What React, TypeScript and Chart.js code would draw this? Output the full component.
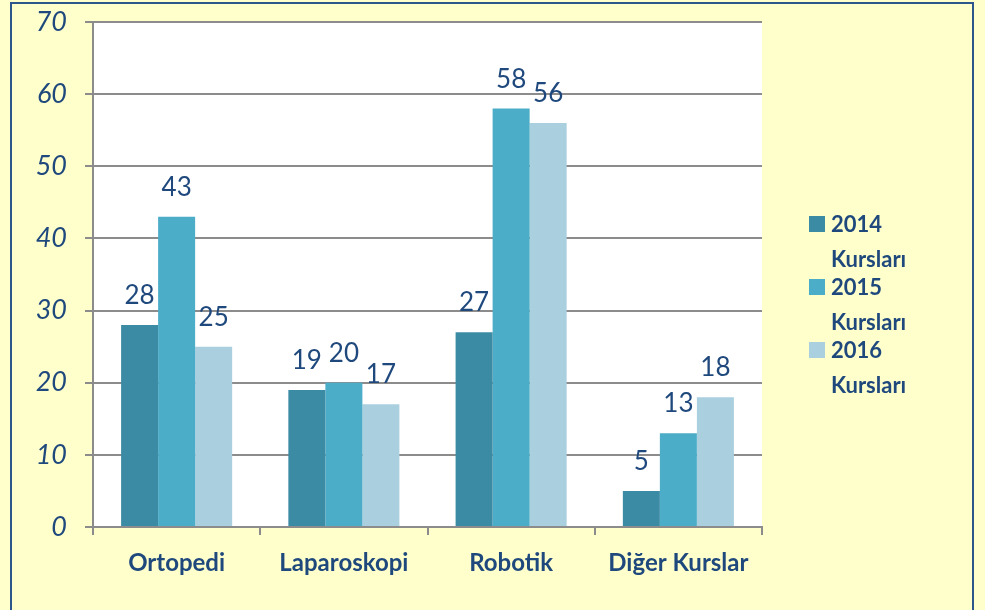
import React, { useEffect, useRef } from "react";
import { Chart, registerables } from "chart.js";

Chart.register(...registerables);

const categories = ["Ortopedi", "Laparoskopi", "Robotik", "Diğer Kurslar"];
const seriesNames = ["2014 Kursları", "2015 Kursları", "2016 Kursları"];
const values2014 = [28, 19, 27, 5];
const values2015 = [43, 20, 58, 13];
const values2016 = [25, 17, 56, 18];
const colors = ["#3C8BA4", "#4BADC7", "#AACFDF"];
const yMax = 70;
const yStep = 10;

const TEXT = "#1F497D";
const FONT = "Lato, 'Open Sans', sans-serif";

const plotBg = {
  id: "plotBg",
  beforeDraw(chart: any) {
    const { ctx, chartArea } = chart;
    ctx.save();
    ctx.fillStyle = "#FFFFFF";
    ctx.fillRect(chartArea.left, chartArea.top, chartArea.right - chartArea.left, chartArea.bottom - chartArea.top);
    ctx.restore();
  },
};

const valueLabels = {
  id: "valueLabels",
  afterDatasetsDraw(chart: any) {
    const { ctx } = chart;
    ctx.save();
    ctx.fillStyle = TEXT;
    ctx.font = `26px ${FONT}`;
    ctx.textAlign = "center";
    ctx.textBaseline = "alphabetic";
    chart.data.datasets.forEach((ds: any, i: number) => {
      const meta = chart.getDatasetMeta(i);
      meta.data.forEach((bar: any, j: number) => {
        ctx.fillText(String(ds.data[j]), bar.x, bar.y - 21);
      });
    });
    ctx.restore();
  },
};

const sideLegend = {
  id: "sideLegend",
  afterDraw(chart: any) {
    const { ctx } = chart;
    ctx.save();
    ctx.font = `bold 22px ${FONT}`;
    ctx.textBaseline = "middle";
    ctx.textAlign = "left";
    const boxX = 809;
    const textX = 831;
    const startY = 224;
    chart.data.datasets.forEach((ds: any, i: number) => {
      const y = startY + i * 63;
      ctx.fillStyle = ds.backgroundColor;
      ctx.fillRect(boxX, y - 8, 16, 16);
      ctx.fillStyle = TEXT;
      const parts = String(ds.label).split(" ");
      ctx.fillText(parts[0], textX, y + 1);
      ctx.fillText(parts.slice(1).join(" "), textX, y + 36);
    });
    ctx.restore();
  },
};

export default function App() {
  const ref = useRef<HTMLCanvasElement | null>(null);

  useEffect(() => {
    document.body.style.margin = "0";
    document.body.style.background = "#FFFFCC";
    const canvas = ref.current;
    if (!canvas) return;
    const chart = new Chart(canvas, {
      type: "bar",
      data: {
        labels: categories,
        datasets: [
          { label: seriesNames[0], data: values2014, backgroundColor: colors[0] },
          { label: seriesNames[1], data: values2015, backgroundColor: colors[1] },
          { label: seriesNames[2], data: values2016, backgroundColor: colors[2] },
        ],
      },
      options: {
        responsive: false,
        animation: false,
        layout: { padding: { top: 22, right: 223, left: 0, bottom: 0 } },
        datasets: { bar: { categoryPercentage: 0.664, barPercentage: 1 } },
        plugins: {
          legend: { display: false },
          tooltip: { enabled: false },
        },
        scales: {
          x: {
            grid: {
              offset: true,
              drawOnChartArea: false,
              drawTicks: true,
              tickLength: 8,
              color: "#8C8C8C",
              lineWidth: 2,
            },
            border: { color: "#8C8C8C", width: 2 },
            ticks: {
              color: TEXT,
              font: { family: FONT, size: 24, weight: "bold" },
              padding: 14,
              maxRotation: 0,
            },
            afterFit(scale: any) {
              scale.height = 83;
              scale.paddingLeft = 0;
              scale.paddingRight = 0;
            },
          },
          y: {
            min: 0,
            max: yMax,
            grid: {
              color: "#8C8C8C",
              lineWidth: 2,
              drawTicks: true,
              tickLength: 8,
            },
            border: { color: "#8C8C8C", width: 2 },
            ticks: {
              stepSize: yStep,
              color: TEXT,
              font: { family: FONT, size: 27, style: "italic" },
              padding: 18,
            },
            afterFit(scale: any) {
              scale.width = 93;
              scale.paddingTop = 0;
              scale.paddingBottom = 0;
            },
          },
        },
      },
      plugins: [plotBg, valueLabels, sideLegend],
    });
    return () => chart.destroy();
  }, []);

  return (
    <div style={{ position: "relative", width: 985, height: 610, background: "#FFFFCC", overflow: "hidden" }}>
      <canvas ref={ref} width={985} height={610} style={{ position: "absolute", left: 0, top: 0 }} />
      <div
        style={{
          position: "absolute",
          left: 10,
          top: 2,
          width: 960,
          height: 640,
          border: "2px solid #2B578C",
          pointerEvents: "none",
        }}
      />
    </div>
  );
}
